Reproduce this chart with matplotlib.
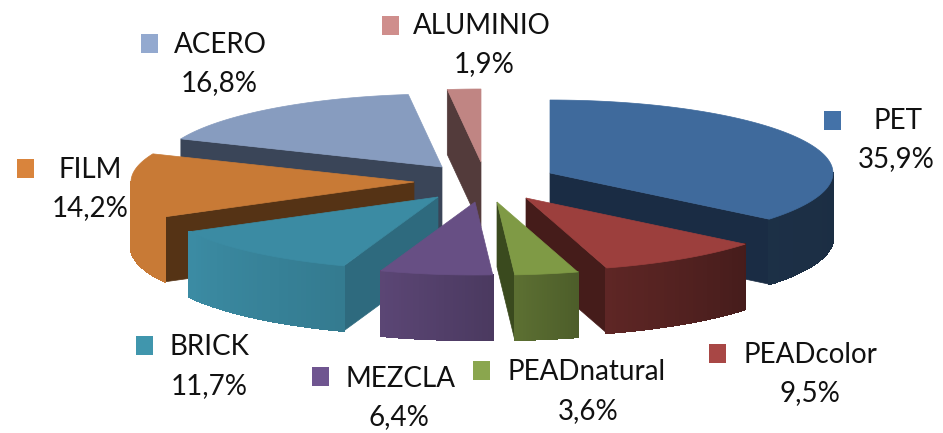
from matplotlib import pyplot as plt
from matplotlib.collections import PolyCollection
from matplotlib.patches import Rectangle
import numpy as np

plt.rcParams['font.family'] = ['Lato', 'DejaVu Sans']

categorias = ["PET", "PEADcolor", "PEADnatural", "MEZCLA", "BRICK", "FILM", "ACERO", "ALUMINIO"]
valores = [35.9, 9.5, 3.6, 6.4, 11.7, 14.2, 16.8, 1.9]
etiquetas = ["35,9%", "9,5%", "3,6%", "6,4%", "11,7%", "14,2%", "16,8%", "1,9%"]

# estilo y geometria (en pixeles de la imagen)
colores = ["#3f6a9c", "#9c3f3d", "#7f9a45", "#674f84", "#3b8ba3", "#c87a36", "#879cbf", "#c08583"]
colores_pared = ["#1a2c44", "#451c1a", "#3a4a1e", "#4d3a5f", "#2e6a7e", "#553315", "#3a4558", "#533b3b"]
leyenda = ["#4472a8", "#a84745", "#8aa64e", "#6f5590", "#4096ad", "#d9843c", "#93a9cf", "#cf8e8c"]
apex_x = [550, 526, 497, 475, 438, 414, 442, 481]
apex_y = [173, 198, 202, 202, 197, 182, 167, 162]
rx, ry, prof = 283, 73, 65

# centro del cuadro, del nombre y del porcentaje
pos_cuadro = [(832, 120), (717, 353), (481, 370), (320, 376), (144, 345), (25, 168), (149, 43), (390, 25)]
pos_nombre = [(898, 121), (810, 355), (587, 372), (400, 379), (209, 347), (90, 170), (220, 45), (482, 26)]
pos_pct = [(896, 159), (810, 393), (588, 411), (399, 417), (209, 386), (90, 208), (219, 83), (484, 64)]

# luz de la pared exterior segun el angulo
luz_ang = [90, 130, 163, 176, 199, 241, 270]
luz_val = [0.43, 0.45, 0.60, 0.72, 0.88, 1.0, 1.0]


def borde(cx, cy, t):
    return cx + rx * np.sin(t), cy - ry * np.cos(t)


def hex_rgb(c):
    return np.array([int(c[i:i + 2], 16) / 255 for i in (1, 3, 5)])


fig = plt.figure(figsize=(9.43, 4.33), dpi=100)
ax = fig.add_axes([0, 0, 1, 1])
ax.set_xlim(0, 943)
ax.set_ylim(433, 0)
ax.axis("off")

angulos = np.concatenate([[0], np.cumsum(valores) / np.sum(valores) * 2 * np.pi])
orden = [0, 7, 6, 5, 4, 3, 1, 2]

for z, i in enumerate(orden):
    s, e = angulos[i], angulos[i + 1]
    cx, cy = apex_x[i], apex_y[i]
    tapa = colores[i]

    # paredes radiales visibles
    for a, visible in ((s, np.sin(s) < 0), (e, np.sin(e) > 0)):
        if visible:
            x, y = borde(cx, cy, a)
            ax.fill([cx, x, x, cx], [cy, y, y + prof, cy + prof], color=colores_pared[i], lw=0.5, zorder=z * 3)

    # pared exterior, solo la mitad de delante
    a0, a1 = max(s, np.pi / 2), min(e, 3 * np.pi / 2)
    if a1 > a0:
        t = np.linspace(a0, a1, 40)
        x, y = borde(cx, cy, t)
        quads = []
        cols = []
        for k in range(len(t) - 1):
            quads.append([(x[k], y[k]), (x[k + 1], y[k + 1]), (x[k + 1], y[k + 1] + prof), (x[k], y[k] + prof)])
            f = np.interp(np.degrees((t[k] + t[k + 1]) / 2), luz_ang, luz_val)
            cols.append(hex_rgb(tapa) * f)
        ax.add_collection(PolyCollection(quads, facecolors=cols, edgecolors=cols, linewidths=1,
                                         antialiaseds=False, zorder=z * 3 + 1))

    # tapa
    t = np.linspace(s, e, 80)
    x, y = borde(cx, cy, t)
    ax.fill(np.r_[cx, x], np.r_[cy, y], color=tapa, lw=0.5, zorder=z * 3 + 2)

for i in range(len(categorias)):
    qx, qy = pos_cuadro[i]
    ax.add_patch(Rectangle((qx - 8.5, qy - 9.5), 17, 19, color=leyenda[i], lw=0, zorder=50))
    ax.text(*pos_nombre[i], categorias[i], fontsize=20, ha="center", va="center", color="#111111", zorder=51)
    ax.text(*pos_pct[i], etiquetas[i], fontsize=20, ha="center", va="center", color="#111111", zorder=51)

fig.savefig("out.png", dpi=100)
